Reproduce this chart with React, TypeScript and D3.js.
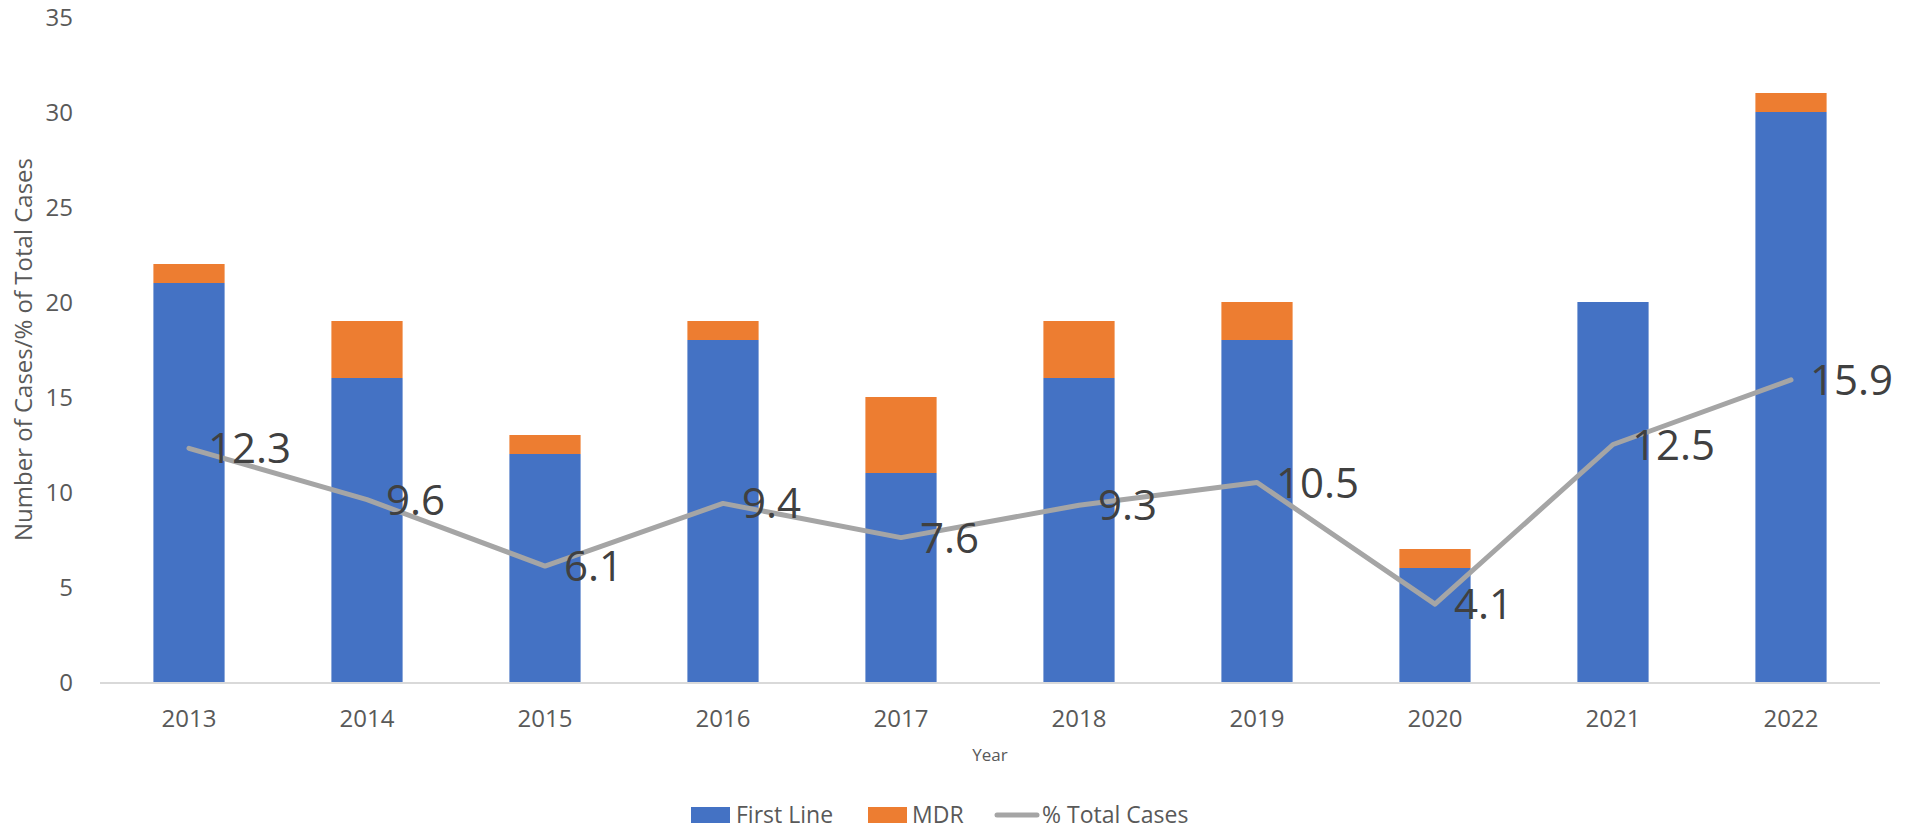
import { useEffect, useRef } from 'react';
import * as d3 from 'd3';

const years = ['2013', '2014', '2015', '2016', '2017', '2018', '2019', '2020', '2021', '2022'];
const firstLine = [21, 16, 12, 18, 11, 16, 18, 6, 20, 30];
const mdr = [1, 3, 1, 1, 4, 3, 2, 1, 0, 1];
const pctTotal = [12.3, 9.6, 6.1, 9.4, 7.6, 9.3, 10.5, 4.1, 12.5, 15.9];
const yTicks = [0, 5, 10, 15, 20, 25, 30, 35];

const FONT = '"Open Sans", sans-serif';

const App = () => {
  const svgRef = useRef(null);

  useEffect(() => {
    const width = 1919;
    const height = 830;
    const left = 100;
    const right = 1880;
    const top = 17;
    const bottom = 682;

    const svg = d3.select(svgRef.current);
    svg.selectAll('*').remove();

    const x = d3.scaleBand().domain(years).range([left, right]).paddingInner(0.6).paddingOuter(0.3);
    const y = d3.scaleLinear().domain([0, 35]).range([bottom, top]);

    // y 軸刻度
    svg
      .append('g')
      .selectAll('text')
      .data(yTicks)
      .join('text')
      .attr('x', 73)
      .attr('y', (d) => y(d) + 8.5)
      .attr('text-anchor', 'end')
      .style('font', `24px ${FONT}`)
      .style('fill', '#595959')
      .text((d) => d);

    // 堆疊長條
    const rows = years.map((yr, i) => ({ year: yr, first: firstLine[i], mdr: mdr[i] }));
    const stack = d3.stack().keys(['first', 'mdr'])(rows);
    const colors = ['#4472C4', '#ED7D31'];

    svg
      .append('g')
      .selectAll('g')
      .data(stack)
      .join('g')
      .attr('fill', (d, i) => colors[i])
      .selectAll('rect')
      .data((d) => d)
      .join('rect')
      .attr('x', (d) => x(d.data.year))
      .attr('y', (d) => y(d[1]))
      .attr('width', x.bandwidth())
      .attr('height', (d) => y(d[0]) - y(d[1]));

    // x 軸線
    svg
      .append('line')
      .attr('x1', left)
      .attr('x2', right)
      .attr('y1', bottom + 1)
      .attr('y2', bottom + 1)
      .attr('stroke', '#D9D9D9')
      .attr('stroke-width', 2);

    // x 軸刻度
    svg
      .append('g')
      .selectAll('text')
      .data(years)
      .join('text')
      .attr('x', (d) => x(d) + x.bandwidth() / 2)
      .attr('y', 727)
      .attr('text-anchor', 'middle')
      .style('font', `24px ${FONT}`)
      .style('fill', '#595959')
      .text((d) => d);

    // 折線
    const cx = (i) => x(years[i]) + x.bandwidth() / 2;
    const line = d3
      .line()
      .x((d, i) => cx(i))
      .y((d) => y(d));

    svg
      .append('path')
      .datum(pctTotal)
      .attr('d', line)
      .attr('fill', 'none')
      .attr('stroke', '#A5A5A5')
      .attr('stroke-width', 5)
      .attr('stroke-linecap', 'round')
      .attr('stroke-linejoin', 'round');

    // 數據標籤
    svg
      .append('g')
      .selectAll('text')
      .data(pctTotal)
      .join('text')
      .attr('x', (d, i) => cx(i) + 19)
      .attr('y', (d) => y(d) + 15)
      .style('font', `42px ${FONT}`)
      .style('fill', '#404040')
      .text((d) => d.toFixed(1));

    // 軸標題
    svg
      .append('text')
      .attr('transform', `translate(32,${(top + bottom) / 2}) rotate(-90)`)
      .attr('text-anchor', 'middle')
      .style('font', `24px ${FONT}`)
      .style('fill', '#595959')
      .text('Number of Cases/% of Total Cases');

    svg
      .append('text')
      .attr('x', (left + right) / 2)
      .attr('y', 761)
      .attr('text-anchor', 'middle')
      .style('font', `17px ${FONT}`)
      .style('fill', '#595959')
      .text('Year');

    // 圖例
    const legend = svg.append('g').style('font', `23px ${FONT}`).style('fill', '#595959');
    legend.append('rect').attr('x', 691).attr('y', 807).attr('width', 39).attr('height', 16).attr('fill', colors[0]);
    legend.append('text').attr('x', 736).attr('y', 823).text('First Line');
    legend.append('rect').attr('x', 868).attr('y', 807).attr('width', 39).attr('height', 16).attr('fill', colors[1]);
    legend.append('text').attr('x', 912).attr('y', 823).text('MDR');
    legend
      .append('line')
      .attr('x1', 997)
      .attr('x2', 1037)
      .attr('y1', 815)
      .attr('y2', 815)
      .attr('stroke', '#A5A5A5')
      .attr('stroke-width', 5)
      .attr('stroke-linecap', 'round');
    legend.append('text').attr('x', 1042).attr('y', 823).text('% Total Cases');

    svg.attr('width', width).attr('height', height);
  }, []);

  return (
    <svg
      ref={svgRef}
      width={1919}
      height={830}
      style={{ position: 'absolute', left: 0, top: 0, background: '#fff' }}
    ></svg>
  );
};

export default App;
